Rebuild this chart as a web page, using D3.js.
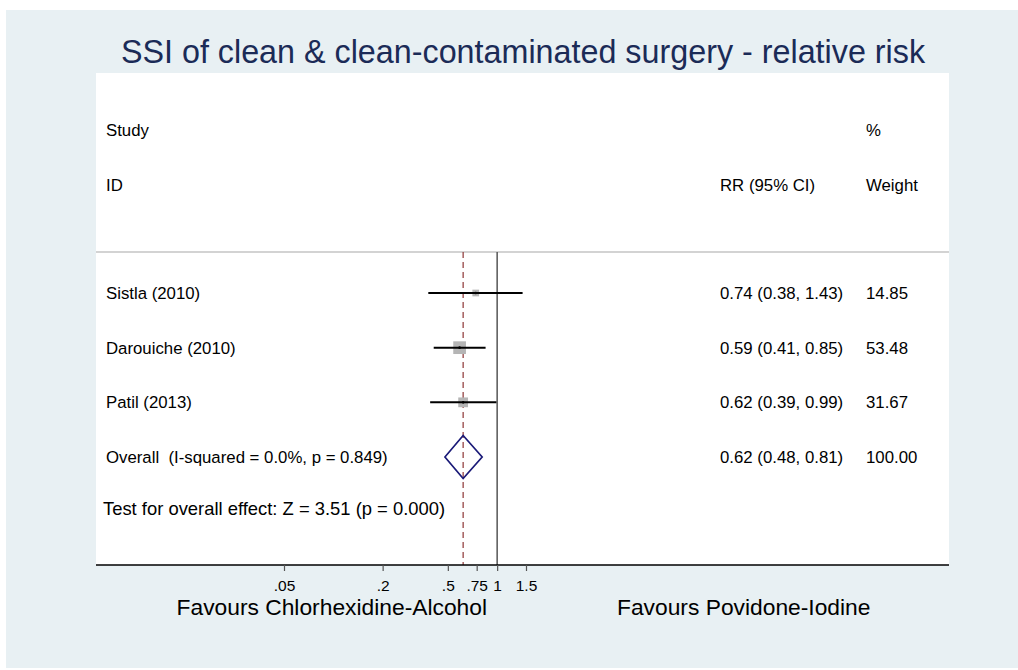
<!DOCTYPE html>
<html>
<head>
<meta charset="utf-8">
<script src="https://cdn.jsdelivr.net/npm/d3@7"></script>
<style>
  body { margin: 0; background: #fff; }
  text { font-family: "Liberation Sans", Arial, sans-serif; fill: #000; white-space: pre; }
</style>
</head>
<body>
<svg width="1018" height="670"></svg>
<script>
// study data (RR, 95% CI, % weight)
var studies = ["Sistla (2010)", "Darouiche (2010)", "Patil (2013)"];
var rr = [0.74, 0.59, 0.62];
var lower = [0.38, 0.41, 0.39];
var upper = [1.43, 0.85, 0.99];
var weights = [14.85, 53.48, 31.67];

var overallLabel = "Overall  (I-squared = 0.0%, p = 0.849)";
var overall = [0.62, 0.48, 0.81];   // est, lower, upper
var overallWeight = "100.00";
var effectText = "Test for overall effect: Z = 3.51 (p = 0.000)";

var tickValues = [0.05, 0.2, 0.5, 0.75, 1, 1.5];
var tickLabels = [".05", ".2", ".5", ".75", "1", "1.5"];

var svg = d3.select("svg");
var fs = 16.8;

// outer stata-ish background + white plot region
svg.append("rect").attr("x", 6).attr("y", 10).attr("width", 1012).attr("height", 658)
    .attr("fill", "#e8f0f3");
svg.append("rect").attr("x", 96).attr("y", 73).attr("width", 853).attr("height", 492)
    .attr("fill", "#fff");

svg.append("text")
    .attr("x", 523).attr("y", 63)
    .attr("text-anchor", "middle")
    .attr("font-size", 32.3)
    .style("fill", "#1b2b57")
    .text("SSI of clean & clean-contaminated surgery - relative risk");

// x scale (log, RR)
var x = d3.scaleLog().domain([0.05, 1.5]).range([284, 526]);

// rows
var rowY = d3.scalePoint().domain(d3.range(4)).range([293, 457]);
var plotTop = 252, plotBottom = 565;

// header
var header = svg.append("g").attr("font-size", fs);
header.append("text").attr("x", 106).attr("y", 136).text("Study");
header.append("text").attr("x", 106).attr("y", 191).text("ID");
header.append("text").attr("x", 720).attr("y", 191).text("RR (95% CI)");
header.append("text").attr("x", 866).attr("y", 136).text("%");
header.append("text").attr("x", 866).attr("y", 191).text("Weight");

svg.append("line").attr("x1", 96).attr("x2", 949).attr("y1", plotTop).attr("y2", plotTop)
    .attr("stroke", "#c4c4c4").attr("stroke-width", 1.5);

// null line
svg.append("line").attr("x1", x(1)).attr("x2", x(1)).attr("y1", plotTop).attr("y2", plotBottom)
    .attr("stroke", "#555").attr("stroke-width", 1.5);

// overall effect dashed line
svg.append("line").attr("x1", x(overall[0])).attr("x2", x(overall[0]))
    .attr("y1", plotTop).attr("y2", plotBottom)
    .attr("stroke", "#8e3535").attr("stroke-width", 1.2)
    .attr("stroke-dasharray", "6,4");

// study rows
var boxSide = d3.scaleSqrt().domain([0, 53.48]).range([0, 12.7]);
var rows = svg.selectAll(".study")
    .data(studies)
    .enter().append("g")
    .attr("class", "study");

rows.append("rect")
    .attr("x", function (d, i) { return x(rr[i]) - boxSide(weights[i]) / 2; })
    .attr("y", function (d, i) { return rowY(i) - boxSide(weights[i]) / 2; })
    .attr("width", function (d, i) { return boxSide(weights[i]); })
    .attr("height", function (d, i) { return boxSide(weights[i]); })
    .attr("fill", "#b5b5b5");

rows.append("line")
    .attr("x1", function (d, i) { return x(lower[i]); })
    .attr("x2", function (d, i) { return x(upper[i]); })
    .attr("y1", function (d, i) { return rowY(i); })
    .attr("y2", function (d, i) { return rowY(i); })
    .attr("stroke", "#000").attr("stroke-width", 2);

rows.append("circle")
    .attr("cx", function (d, i) { return x(rr[i]); })
    .attr("cy", function (d, i) { return rowY(i); })
    .attr("r", 1.3).attr("fill", "#000");

rows.append("text")
    .attr("x", 106).attr("y", function (d, i) { return rowY(i) + 6; })
    .attr("font-size", fs)
    .text(function (d) { return d; });

rows.append("text")
    .attr("x", 720).attr("y", function (d, i) { return rowY(i) + 6; })
    .attr("font-size", fs)
    .text(function (d, i) {
        return rr[i].toFixed(2) + " (" + lower[i].toFixed(2) + ", " + upper[i].toFixed(2) + ")";
    });

rows.append("text")
    .attr("x", 866).attr("y", function (d, i) { return rowY(i) + 6; })
    .attr("font-size", fs)
    .text(function (d, i) { return weights[i].toFixed(2); });

// overall diamond
var oy = rowY(3);
svg.append("path")
    .attr("d", "M" + x(overall[1]) + "," + oy +
        "L" + x(overall[0]) + "," + (oy - 21.5) +
        "L" + x(overall[2]) + "," + oy +
        "L" + x(overall[0]) + "," + (oy + 21.5) + "Z")
    .attr("fill", "none").attr("stroke", "#1a1a78").attr("stroke-width", 1.7);

svg.append("text").attr("x", 106).attr("y", oy + 6).attr("font-size", fs).text(overallLabel);
svg.append("text").attr("x", 720).attr("y", oy + 6).attr("font-size", fs)
    .text(overall[0].toFixed(2) + " (" + overall[1].toFixed(2) + ", " + overall[2].toFixed(2) + ")");
svg.append("text").attr("x", 866).attr("y", oy + 6).attr("font-size", fs).text(overallWeight);

svg.append("text").attr("x", 103).attr("y", 515).attr("font-size", 18.4).text(effectText);

// x axis
svg.append("line").attr("x1", 96).attr("x2", 949).attr("y1", plotBottom).attr("y2", plotBottom)
    .attr("stroke", "#000").attr("stroke-width", 1.5);

var xAxis = d3.axisBottom(x)
    .tickValues(tickValues)
    .tickSize(6)
    .tickFormat(function (d, i) { return tickLabels[i]; });

var axisG = svg.append("g")
    .attr("transform", "translate(0," + plotBottom + ")")
    .call(xAxis);
axisG.select(".domain").remove();
axisG.selectAll(".tick line").attr("stroke", "#555").attr("stroke-width", 1.2);
axisG.selectAll(".tick text")
    .attr("y", 15)
    .attr("dy", "0.71em")
    .attr("font-size", 15.5)
    .attr("font-family", "Liberation Sans, Arial, sans-serif")
    .style("fill", "#000");

svg.append("text").attr("x", 487).attr("y", 615).attr("text-anchor", "end")
    .attr("font-size", 22.8).text("Favours Chlorhexidine-Alcohol");
svg.append("text").attr("x", 617).attr("y", 615)
    .attr("font-size", 22.8).text("Favours Povidone-Iodine");
</script>
</body>
</html>
